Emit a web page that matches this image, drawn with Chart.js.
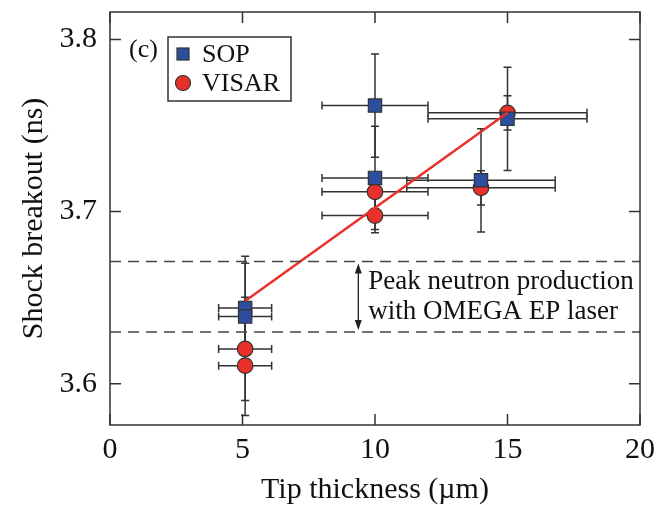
<!DOCTYPE html>
<html>
<head>
<meta charset="utf-8">
<script src="https://cdn.jsdelivr.net/npm/chart.js@4/dist/chart.umd.min.js"></script>
<style>
  html, body { margin: 0; padding: 0; background: #fff; }
</style>
</head>
<body>
<canvas id="chart" width="670" height="505"></canvas>
<script>
// data
const sopX = [5.1, 5.1, 10, 10, 14, 15];
const sopY = [3.644, 3.639, 3.7616, 3.7196, 3.7182, 3.7539];
const sopXErr = [1.0, 1.0, 2, 2, 2.8, 3];
const sopYErr = [0.030, 0.031, 0.030, 0.030, 0.030, 0.030];

const visarX = [5.1, 5.1, 10, 10, 14, 15];
const visarY = [3.6202, 3.6105, 3.7115, 3.6977, 3.7138, 3.7574];
const visarXErr = [1.0, 1.0, 2, 2, 2.8, 3];
const visarYErr = [0.030, 0.029, 0.010, 0.010, 0.010, 0.010];

const fitX = [5.1, 15];
const fitY = [3.648, 3.7574];

const peakBand = [3.671, 3.630];
const arrowX = 9.37;

const xTicks = [0, 5, 10, 15, 20];
const yTicks = [3.6, 3.7, 3.8];

const serif = '"Liberation Serif", "Times New Roman", serif';
const ink = '#333';

function pts(xs, ys) {
    return xs.map((x, i) => ({ x: x, y: ys[i] }));
}

const errorBars = {
    id: 'errorBars',
    beforeDatasetsDraw(chart) {
        const ctx = chart.ctx;
        const xs = chart.scales.x, ys = chart.scales.y;
        const sets = [
            [sopX, sopY, sopXErr, sopYErr],
            [visarX, visarY, visarXErr, visarYErr]
        ];
        ctx.save();
        ctx.strokeStyle = ink;
        ctx.lineWidth = 1.5;
        const cap = 4;
        sets.forEach(([X, Y, XE, YE]) => {
            X.forEach((x, i) => {
                const px = xs.getPixelForValue(x);
                const py = ys.getPixelForValue(Y[i]);
                const x1 = xs.getPixelForValue(x - XE[i]);
                const x2 = xs.getPixelForValue(x + XE[i]);
                const y1 = ys.getPixelForValue(Y[i] + YE[i]);
                const y2 = ys.getPixelForValue(Y[i] - YE[i]);
                ctx.beginPath();
                ctx.moveTo(x1, py); ctx.lineTo(x2, py);
                ctx.moveTo(x1, py - cap); ctx.lineTo(x1, py + cap);
                ctx.moveTo(x2, py - cap); ctx.lineTo(x2, py + cap);
                ctx.moveTo(px, y1); ctx.lineTo(px, y2);
                ctx.moveTo(px - cap, y1); ctx.lineTo(px + cap, y1);
                ctx.moveTo(px - cap, y2); ctx.lineTo(px + cap, y2);
                ctx.stroke();
            });
        });
        ctx.restore();
    }
};

const frame = {
    id: 'frame',
    afterDraw(chart) {
        const ctx = chart.ctx;
        const a = chart.chartArea;
        const xs = chart.scales.x, ys = chart.scales.y;
        ctx.save();
        // box and inward ticks
        ctx.strokeStyle = ink;
        ctx.lineWidth = 1.5;
        ctx.strokeRect(a.left, a.top, a.right - a.left, a.bottom - a.top);
        const tl = 11;
        ctx.beginPath();
        xTicks.forEach(v => {
            const p = xs.getPixelForValue(v);
            ctx.moveTo(p, a.bottom); ctx.lineTo(p, a.bottom - tl);
            ctx.moveTo(p, a.top); ctx.lineTo(p, a.top + tl);
        });
        yTicks.forEach(v => {
            const p = ys.getPixelForValue(v);
            ctx.moveTo(a.left, p); ctx.lineTo(a.left + tl, p);
            ctx.moveTo(a.right, p); ctx.lineTo(a.right - tl, p);
        });
        ctx.stroke();

        // double arrow between the dashed lines
        const ax = xs.getPixelForValue(arrowX);
        const ay1 = ys.getPixelForValue(peakBand[0]) + 2;
        const ay2 = ys.getPixelForValue(peakBand[1]) - 2;
        ctx.strokeStyle = '#222';
        ctx.fillStyle = '#222';
        ctx.lineWidth = 1.3;
        ctx.beginPath();
        ctx.moveTo(ax, ay1 + 6); ctx.lineTo(ax, ay2 - 6);
        ctx.stroke();
        ctx.beginPath();
        ctx.moveTo(ax, ay1); ctx.lineTo(ax - 3.5, ay1 + 10); ctx.lineTo(ax + 3.5, ay1 + 10); ctx.closePath();
        ctx.moveTo(ax, ay2); ctx.lineTo(ax - 3.5, ay2 - 10); ctx.lineTo(ax + 3.5, ay2 - 10); ctx.closePath();
        ctx.fill();

        ctx.fillStyle = '#111';
        ctx.font = '27px ' + serif;
        ctx.textAlign = 'left';
        ctx.textBaseline = 'middle';
        const mid = (ay1 + ay2) / 2;
        ctx.fillText('Peak neutron production', ax + 10, mid - 15);
        ctx.fillText('with OMEGA EP laser', ax + 10, mid + 15);

        // panel label
        ctx.font = '26px ' + serif;
        ctx.fillText('(c)', a.left + 19, a.top + 38);

        // legend
        const lx = a.left + 58, ly = a.top + 25;
        ctx.fillStyle = '#fff';
        ctx.fillRect(lx, ly, 123, 64);
        ctx.strokeStyle = ink;
        ctx.lineWidth = 1.5;
        ctx.strokeRect(lx, ly, 123, 64);
        ctx.fillStyle = '#2d4d9e';
        ctx.fillRect(lx + 9, ly + 11, 12, 12);
        ctx.lineWidth = 1.2;
        ctx.strokeRect(lx + 9, ly + 11, 12, 12);
        ctx.beginPath();
        ctx.arc(lx + 15, ly + 46, 7.5, 0, Math.PI * 2);
        ctx.fillStyle = '#e8312a';
        ctx.fill();
        ctx.stroke();
        ctx.fillStyle = '#111';
        ctx.font = '26px ' + serif;
        ctx.fillText('SOP', lx + 34, ly + 18);
        ctx.fillText('VISAR', lx + 34, ly + 47);
        ctx.restore();
    }
};

const ctx = document.getElementById('chart').getContext('2d');
new Chart(ctx, {
    type: 'scatter',
    data: {
        datasets: [
            {
                label: 'band high',
                data: [{ x: 0, y: peakBand[0] }, { x: 20, y: peakBand[0] }],
                showLine: true,
                borderColor: '#444',
                borderWidth: 1.5,
                borderDash: [11, 7],
                pointRadius: 0
            },
            {
                label: 'band low',
                data: [{ x: 0, y: peakBand[1] }, { x: 20, y: peakBand[1] }],
                showLine: true,
                borderColor: '#444',
                borderWidth: 1.5,
                borderDash: [11, 7],
                pointRadius: 0
            },
            {
                label: 'fit',
                data: pts(fitX, fitY),
                showLine: true,
                borderColor: '#e8312a',
                borderWidth: 2.5,
                pointRadius: 0
            },
            {
                label: 'SOP',
                data: pts(sopX, sopY),
                pointStyle: 'rect',
                pointRadius: 9.4,
                backgroundColor: '#2d4d9e',
                borderColor: ink,
                borderWidth: 1.2
            },
            {
                label: 'VISAR',
                data: pts(visarX, visarY),
                pointStyle: 'circle',
                pointRadius: 7.8,
                backgroundColor: '#e8312a',
                borderColor: ink,
                borderWidth: 1.2
            }
        ]
    },
    options: {
        responsive: false,
        animation: false,
        devicePixelRatio: 1,
        layout: { padding: { left: 0, right: 30, top: 12, bottom: 0 } },
        plugins: {
            legend: { display: false },
            tooltip: { enabled: false }
        },
        scales: {
            x: {
                type: 'linear',
                min: 0,
                max: 20,
                afterBuildTicks: s => { s.ticks = xTicks.map(v => ({ value: v })); },
                afterFit: s => { s.height = 80; s.paddingLeft = 0; s.paddingRight = 0; },
                grid: { display: false, drawTicks: false },
                border: { display: false },
                ticks: {
                    color: '#111',
                    padding: 7,
                    font: { family: serif, size: 30 },
                    callback: v => String(v)
                },
                title: {
                    display: true,
                    text: 'Tip thickness (µm)',
                    color: '#111',
                    padding: 0,
                    font: { family: serif, size: 30, lineHeight: 1 }
                }
            },
            y: {
                type: 'linear',
                min: 3.576,
                max: 3.816,
                afterBuildTicks: s => { s.ticks = yTicks.map(v => ({ value: v })); },
                afterFit: s => { s.width = 110; s.paddingTop = 0; s.paddingBottom = 0; },
                grid: { display: false, drawTicks: false },
                border: { display: false },
                ticks: {
                    color: '#111',
                    padding: 13,
                    font: { family: serif, size: 30 },
                    callback: v => v.toFixed(1)
                },
                title: {
                    display: true,
                    text: 'Shock breakout (ns)',
                    color: '#111',
                    padding: { top: 19, bottom: 0 },
                    font: { family: serif, size: 30, lineHeight: 1 }
                }
            }
        }
    },
    plugins: [errorBars, frame]
});
</script>
</body>
</html>
